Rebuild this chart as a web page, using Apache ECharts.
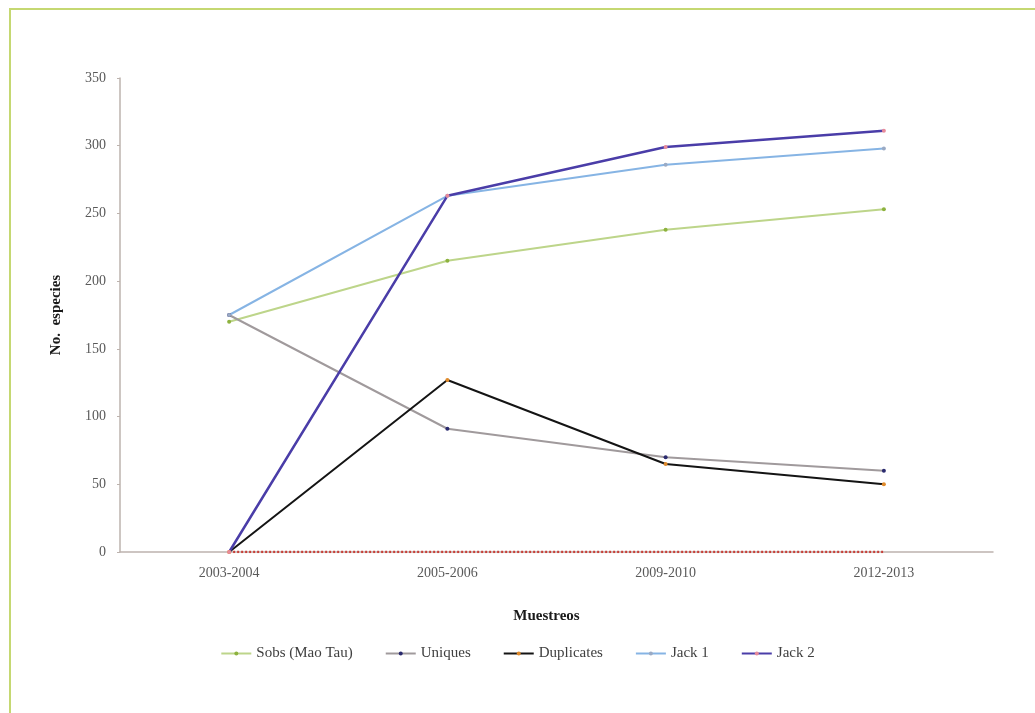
<!DOCTYPE html>
<html>
<head>
<meta charset="utf-8">
<script src="https://cdn.jsdelivr.net/npm/echarts@6/dist/echarts.min.js"></script>
<style>
html,body{margin:0;padding:0;background:#fff;}
#frame{position:absolute;left:9px;top:8px;width:1026px;height:705px;border-left:2px solid #c5d872;border-top:2px solid #c5d872;}
#c{position:absolute;left:0;top:0;width:1035px;height:713px;}
</style>
</head>
<body>
<div id="frame"></div>
<div id="c"></div>
<script>
const categories = ['2003-2004', '2005-2006', '2009-2010', '2012-2013'];
const sobs = [170, 215, 238, 253];
const uniques = [175, 91, 70, 60];
const duplicates = [0, 127, 65, 50];
const jack1 = [175, 263, 286, 298];
const jack2 = [0, 263, 299, 311];
const baseline = [0, 0, 0, 0];
const yTicks = [0, 50, 100, 150, 200, 250, 300, 350];

const serif = '"Liberation Serif", "DejaVu Serif", serif';
const chart = echarts.init(document.getElementById('c'), null, {renderer: 'canvas'});

function mk(name, data, lineColor, markColor, width) {
  return {
    name: name, type: 'line', data: data,
    symbol: 'circle', symbolSize: 4,
    lineStyle: {color: lineColor, width: width || 2},
    itemStyle: {color: markColor},
    emphasis: {disabled: true},
    z: 3
  };
}

chart.setOption({
  animation: false,
  backgroundColor: 'transparent',
  textStyle: {fontFamily: serif},
  grid: {left: 120, right: 42, top: 78, bottom: 161},
  legend: {
    bottom: 47, left: 'center',
    itemWidth: 30, itemHeight: 5, itemGap: 32,
    textStyle: {fontFamily: serif, fontSize: 15, color: '#404040'},
    data: ['Sobs (Mao Tau)', 'Uniques', 'Duplicates', 'Jack 1', 'Jack 2']
  },
  xAxis: {
    type: 'category', data: categories, boundaryGap: true,
    name: 'Muestreos', nameLocation: 'middle', nameGap: 57,
    nameTextStyle: {fontFamily: serif, fontSize: 15, fontWeight: 'bold', color: '#1a1a1a', padding: [0, 20, 0, 0]},
    axisLine: {lineStyle: {color: '#bdb3ae', width: 1.5}},
    axisTick: {show: false},
    axisLabel: {fontFamily: serif, fontSize: 14, color: '#595959', margin: 14}
  },
  yAxis: {
    type: 'value', min: 0, max: 350, interval: 50,
    name: 'No.  especies', nameLocation: 'middle', nameGap: 56, nameRotate: 90,
    nameTextStyle: {fontFamily: serif, fontSize: 15, fontWeight: 'bold', color: '#1a1a1a'},
    axisLine: {show: true, lineStyle: {color: '#bdb3ae', width: 1.5}},
    axisTick: {show: true, length: 3, lineStyle: {color: '#bdb3ae'}},
    splitLine: {show: false},
    axisLabel: {fontFamily: serif, fontSize: 14, color: '#595959', margin: 14,
      formatter: function (v) { return yTicks.indexOf(v) >= 0 ? String(v) : ''; }}
  },
  series: [
    {
      name: 'baseline', type: 'line', data: baseline, symbol: 'none',
      lineStyle: {color: '#c8403a', width: 2.5, type: [2, 2]},
      emphasis: {disabled: true}, z: 2
    },
    mk('Sobs (Mao Tau)', sobs, '#bdd58a', '#8db23e', 2),
    mk('Uniques', uniques, '#a09a9c', '#2a2a6e', 2),
    mk('Duplicates', duplicates, '#141414', '#e08a2a', 2),
    mk('Jack 1', jack1, '#86b4e4', '#9aaac4', 2),
    mk('Jack 2', jack2, '#4a3da8', '#e88a9a', 2.5)
  ]
});
</script>
</body>
</html>
